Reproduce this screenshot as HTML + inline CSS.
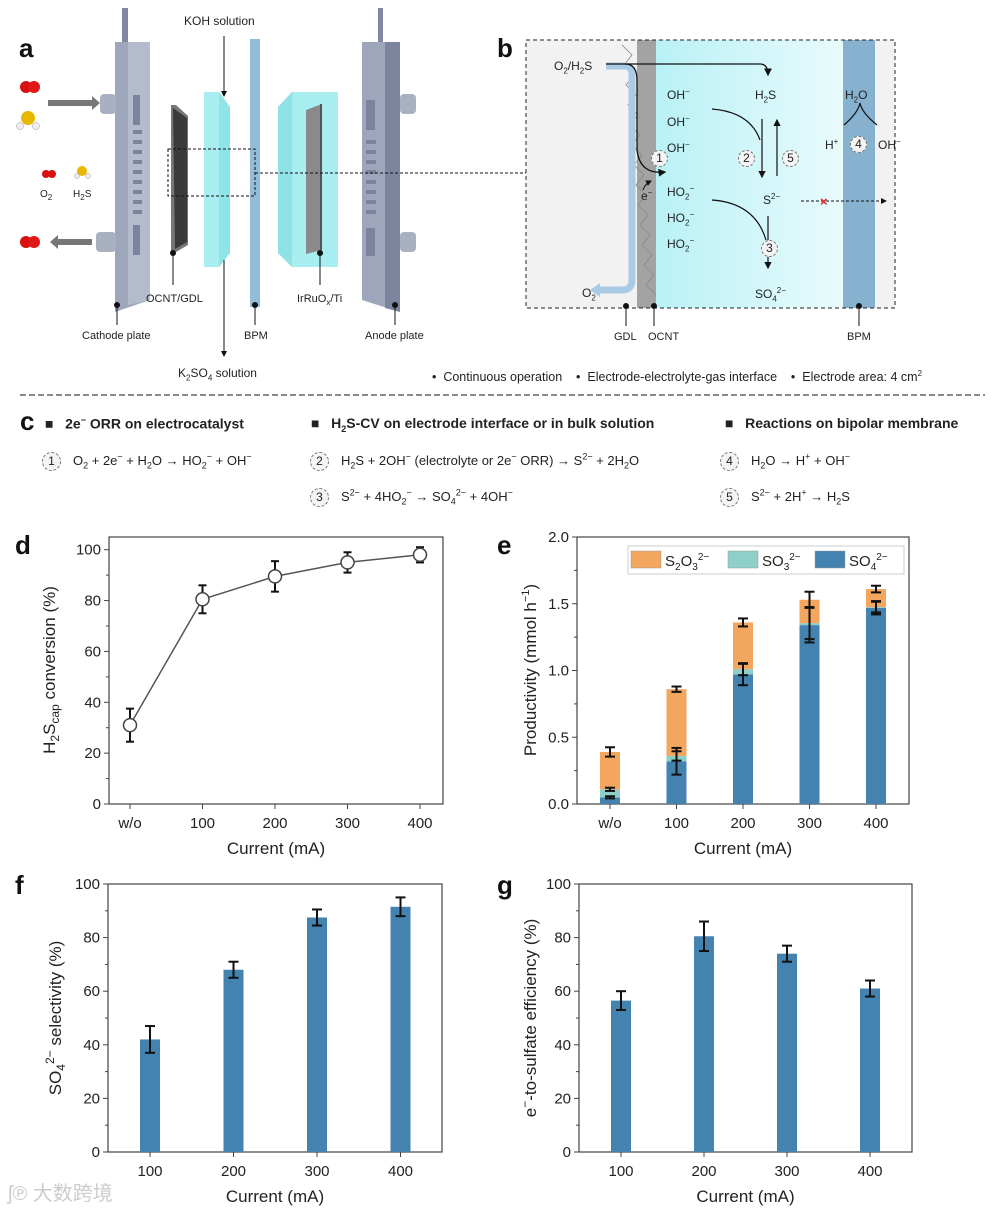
<!DOCTYPE html>
<html><head><meta charset="utf-8">
<style>
body{margin:0;background:#fff;}
#root{position:relative;width:993px;height:1215px;overflow:hidden;font-family:"Liberation Sans","Noto Sans CJK SC",sans-serif;color:#222;}
.t{position:absolute;white-space:nowrap;font-size:12px;line-height:1;}
.t sub,.t sup{font-size:8px;line-height:0;}
.lbl{position:absolute;font-weight:bold;font-size:26px;line-height:1;color:#111;}
.h{position:absolute;font-weight:bold;font-size:14px;white-space:nowrap;line-height:1;}
.eq{position:absolute;font-size:13px;white-space:nowrap;line-height:1;}
.eq sub,.eq sup,.h sub{font-size:9px;line-height:0;}
.circ{display:inline-block;width:17px;height:17px;border:1px dashed #777;border-radius:50%;text-align:center;line-height:17px;font-size:12px;margin-right:12px;vertical-align:middle;background:#f4f4f4;}
svg text{font-family:"Liberation Sans",sans-serif;}
</style></head><body>
<div id="root">
<svg width="993" height="1215" style="position:absolute;left:0;top:0">
<defs>
<linearGradient id="cy" x1="0" x2="1"><stop offset="0" stop-color="#b9f1f6"/><stop offset="1" stop-color="#e9fbfc"/></linearGradient>
<marker id="ah" markerWidth="6" markerHeight="6" refX="5" refY="3" orient="auto"><path d="M0,0 L6,3 L0,6z" fill="#111"/></marker>
</defs>
<!-- panel a -->
<g>
<polygon points="122,8 128,8 128,42 122,42" fill="#8089a0"/>
<polygon points="115,42 150,42 150,300 115,312" fill="#9ea6bb"/>
<polygon points="128,42 150,42 150,300 128,305" fill="#b4bbcc"/>
<rect x="133" y="95" width="7" height="30" fill="#7a849c"/>
<g fill="#7a849c"><rect x="133" y="130" width="9" height="4"/><rect x="133" y="140" width="9" height="4"/><rect x="133" y="150" width="9" height="4"/><rect x="133" y="160" width="9" height="4"/><rect x="133" y="170" width="9" height="4"/><rect x="133" y="180" width="9" height="4"/><rect x="133" y="190" width="9" height="4"/><rect x="133" y="200" width="9" height="4"/><rect x="133" y="210" width="9" height="4"/></g>
<rect x="133" y="225" width="7" height="30" fill="#7a849c"/>
<rect x="100" y="94" width="16" height="20" rx="4" fill="#a9b0c2"/>
<rect x="96" y="232" width="20" height="20" rx="4" fill="#a9b0c2"/>
<polygon points="48,100 92,100 92,96 100,103 92,110 92,106 48,106" fill="#777"/>
<polygon points="92,239 58,239 58,235 50,242 58,249 58,245 92,245" fill="#777"/>
<circle cx="26" cy="87" r="6" fill="#d81010"/><circle cx="34" cy="87" r="6" fill="#e01818"/>
<circle cx="28" cy="118" r="7" fill="#e8b800"/><circle cx="20" cy="126" r="3.5" fill="#eee" stroke="#999" stroke-width=".5"/><circle cx="36" cy="126" r="3.5" fill="#eee" stroke="#999" stroke-width=".5"/>
<circle cx="46" cy="174" r="4" fill="#d81010"/><circle cx="52" cy="174" r="4" fill="#d81010"/>
<circle cx="82" cy="171" r="5" fill="#e8b800"/><circle cx="77" cy="176" r="2.5" fill="#eee" stroke="#999" stroke-width=".5"/><circle cx="88" cy="176" r="2.5" fill="#eee" stroke="#999" stroke-width=".5"/>
<circle cx="26" cy="242" r="6" fill="#d81010"/><circle cx="34" cy="242" r="6" fill="#e01818"/>
<polygon points="171,105 176,105 188,116 188,245 176,252 171,252" fill="#777"/>
<polygon points="173,108 187,118 187,242 175,249" fill="#3c3a38"/>
<polygon points="204,92 219,92 230,107 230,253 219,267 204,267" fill="#a8eef1"/>
<polygon points="219,92 230,107 230,253 219,267" fill="#8fe4e8"/>
<rect x="250" y="39" width="10" height="268" fill="#93bcd8"/>
<polygon points="278,107 292,92 338,92 338,267 292,267 278,253" fill="#a8eef1"/>
<polygon points="278,107 292,92 292,267 278,253" fill="#8ee2e6"/>
<polygon points="306,110 322,104 322,250 306,254" fill="#8a8a8a"/>
<polygon points="320,104 322,104 322,250 320,250" fill="#555"/>
<polygon points="378,8 383,8 383,42 378,42" fill="#8089a0"/>
<polygon points="362,42 400,42 400,312 362,300" fill="#9ea6bb"/>
<polygon points="385,42 400,42 400,312 385,308" fill="#7c859d"/>
<g fill="#7a849c"><rect x="366" y="100" width="9" height="30"/><rect x="366" y="140" width="10" height="4"/><rect x="366" y="150" width="10" height="4"/><rect x="366" y="160" width="10" height="4"/><rect x="366" y="170" width="10" height="4"/><rect x="366" y="180" width="10" height="4"/><rect x="366" y="190" width="10" height="4"/><rect x="366" y="200" width="10" height="4"/><rect x="366" y="210" width="10" height="4"/><rect x="366" y="228" width="9" height="28"/></g>
<rect x="400" y="94" width="16" height="20" rx="4" fill="#a9b0c2"/>
<rect x="400" y="232" width="16" height="20" rx="4" fill="#a9b0c2"/>
<rect x="168" y="149" width="87" height="47" fill="none" stroke="#111" stroke-dasharray="3,2"/>
<line x1="255" y1="173" x2="526" y2="173" stroke="#111" stroke-dasharray="3,2"/>
<line x1="224" y1="36" x2="224" y2="96" stroke="#111" marker-end="url(#ah)"/>
<line x1="224" y1="260" x2="224" y2="356" stroke="#111" marker-end="url(#ah)"/>
<g stroke="#111"><line x1="173" y1="253" x2="173" y2="285"/><line x1="117" y1="305" x2="117" y2="325"/><line x1="255" y1="305" x2="255" y2="325"/><line x1="320" y1="253" x2="320" y2="285"/><line x1="395" y1="305" x2="395" y2="325"/></g>
<g fill="#111"><circle cx="173" cy="253" r="3"/><circle cx="117" cy="305" r="3"/><circle cx="255" cy="305" r="3"/><circle cx="320" cy="253" r="3"/><circle cx="395" cy="305" r="3"/></g>
</g>
<!-- panel b -->
<g>
<rect x="526" y="40" width="369" height="268" fill="#f2f2f2"/>
<rect x="656" y="40" width="187" height="268" fill="url(#cy)"/>
<rect x="637" y="40" width="19" height="268" fill="#a3a3a3"/>
<path d="M622,45 l10,10 l-8,10 l10,10 l-8,10 l10,10 l-8,10 l10,10 l-8,10 l10,10 l-8,10 l10,10 l-8,10 l10,10 l-8,10 l10,10 l-8,10 l10,10 l-8,10 l10,10 l-8,10 l10,10 l-8,10 l10,10 l-8,10 l10,10" fill="none" stroke="#888" stroke-width=".8"/>
<rect x="843" y="40" width="32" height="268" fill="#87b2cf"/>
<rect x="526" y="40" width="369" height="268" fill="none" stroke="#222" stroke-dasharray="4,3"/>
<path d="M606,66 L625,66 Q632,66 632,75 L632,280 Q632,290 622,290 L598,290" fill="none" stroke="#a9cbe6" stroke-width="7"/>
<polygon points="590,290 600,283 600,297" fill="#a9cbe6"/>
<path d="M606,64 L625,64 Q637,64 637,80 L637,150 Q640,175 665,172" fill="none" stroke="#111" stroke-width="1.3" marker-end="url(#ah)"/>
<path d="M625,64 L760,64 Q768,64 768,75" fill="none" stroke="#111" stroke-width="1.3" marker-end="url(#ah)"/>
<path d="M712,109 Q750,112 760,140" fill="none" stroke="#111" stroke-width="1.2"/>
<line x1="762" y1="119" x2="762" y2="177" stroke="#111" stroke-width="1.2" marker-end="url(#ah)"/>
<line x1="777" y1="176" x2="777" y2="120" stroke="#111" stroke-width="1.2" marker-end="url(#ah)"/>
<path d="M712,200 Q755,203 766,240" fill="none" stroke="#111" stroke-width="1.2"/>
<line x1="768" y1="216" x2="768" y2="268" stroke="#111" stroke-width="1.2" marker-end="url(#ah)"/>
<path d="M643,190 Q645,184 651,181" fill="none" stroke="#111" marker-end="url(#ah)"/>
<path d="M844,125 Q858,113 860,103 Q862,113 877,125" fill="none" stroke="#111" stroke-width="1.2"/>
<line x1="801" y1="201" x2="886" y2="201" stroke="#111" stroke-dasharray="3,2" marker-end="url(#ah)"/>
<text x="820" y="206" fill="#e02020" font-size="13" font-weight="bold">×</text>
<g stroke="#111"><line x1="626" y1="306" x2="626" y2="326"/><line x1="654" y1="306" x2="654" y2="326"/><line x1="859" y1="306" x2="859" y2="326"/></g>
<g fill="#111"><circle cx="626" cy="306" r="3"/><circle cx="654" cy="306" r="3"/><circle cx="859" cy="306" r="3"/></g>
</g>
<line x1="20" y1="395" x2="985" y2="395" stroke="#888" stroke-width="2" stroke-dasharray="6,3"/>
<g id="charts"></g>
</svg>

<div class="lbl" style="left:19px;top:35px">a</div>
<div class="lbl" style="left:497px;top:35px">b</div>
<div class="lbl" style="left:20px;top:408px">c</div>
<div class="lbl" style="left:15px;top:532px">d</div>
<div class="lbl" style="left:497px;top:532px">e</div>
<div class="lbl" style="left:15px;top:872px">f</div>
<div class="lbl" style="left:497px;top:872px">g</div>

<div class="t" style="left:184px;top:15px">KOH solution</div>
<div class="t" style="left:178px;top:367px">K<sub>2</sub>SO<sub>4</sub> solution</div>
<div class="t" style="left:40px;top:190px;font-size:10px">O<sub>2</sub></div>
<div class="t" style="left:73px;top:190px;font-size:10px">H<sub>2</sub>S</div>
<div class="t" style="left:146px;top:294px;font-size:11px">OCNT/GDL</div>
<div class="t" style="left:297px;top:294px;font-size:11px">IrRuO<sub>x</sub>/Ti</div>
<div class="t" style="left:82px;top:331px;font-size:11px">Cathode plate</div>
<div class="t" style="left:244px;top:331px;font-size:11px">BPM</div>
<div class="t" style="left:365px;top:331px;font-size:11px">Anode plate</div>

<div class="t" style="left:554px;top:60px">O<sub>2</sub>/H<sub>2</sub>S</div>
<div class="t" style="left:667px;top:89px">OH<sup>−</sup></div>
<div class="t" style="left:667px;top:116px">OH<sup>−</sup></div>
<div class="t" style="left:667px;top:142px">OH<sup>−</sup></div>
<div class="t" style="left:755px;top:89px">H<sub>2</sub>S</div>
<div class="t" style="left:845px;top:89px">H<sub>2</sub>O</div>
<div class="t" style="left:825px;top:139px">H<sup>+</sup></div>
<div class="t" style="left:878px;top:139px">OH<sup>−</sup></div>
<div class="t" style="left:667px;top:186px">HO<sub>2</sub><sup>−</sup></div>
<div class="t" style="left:667px;top:212px">HO<sub>2</sub><sup>−</sup></div>
<div class="t" style="left:667px;top:238px">HO<sub>2</sub><sup>−</sup></div>
<div class="t" style="left:763px;top:194px">S<sup>2−</sup></div>
<div class="t" style="left:755px;top:288px">SO<sub>4</sub><sup>2−</sup></div>
<div class="t" style="left:641px;top:190px">e<sup>−</sup></div>
<div class="t" style="left:582px;top:287px">O<sub>2</sub></div>
<div class="t" style="left:651px;top:150px"><span class="circ" style="width:15px;height:15px;line-height:15px">1</span></div>
<div class="t" style="left:738px;top:150px"><span class="circ" style="width:15px;height:15px;line-height:15px">2</span></div>
<div class="t" style="left:782px;top:150px"><span class="circ" style="width:15px;height:15px;line-height:15px">5</span></div>
<div class="t" style="left:761px;top:240px"><span class="circ" style="width:15px;height:15px;line-height:15px">3</span></div>
<div class="t" style="left:850px;top:136px"><span class="circ" style="width:15px;height:15px;line-height:15px">4</span></div>
<div class="t" style="left:614px;top:332px;font-size:11px">GDL</div>
<div class="t" style="left:648px;top:332px;font-size:11px">OCNT</div>
<div class="t" style="left:847px;top:332px;font-size:11px">BPM</div>
<div class="t" style="left:432px;top:371px;font-size:12.5px">•&nbsp;&nbsp;Continuous operation&nbsp;&nbsp;&nbsp;&nbsp;•&nbsp;&nbsp;Electrode-electrolyte-gas interface&nbsp;&nbsp;&nbsp;&nbsp;•&nbsp;&nbsp;Electrode area: 4 cm<sup>2</sup></div>

<div class="h" style="left:45px;top:416px">■&nbsp;&nbsp;&nbsp;2e<sup style="font-size:9px">−</sup> ORR on electrocatalyst</div>
<div class="h" style="left:311px;top:416px">■&nbsp;&nbsp;&nbsp;H<sub>2</sub>S-CV on electrode interface or in bulk solution</div>
<div class="h" style="left:725px;top:416px">■&nbsp;&nbsp;&nbsp;Reactions on bipolar membrane</div>
<div class="eq" style="left:42px;top:452px"><span class="circ">1</span>O<sub>2</sub> + 2e<sup>−</sup> + H<sub>2</sub>O → HO<sub>2</sub><sup>−</sup> + OH<sup>−</sup></div>
<div class="eq" style="left:310px;top:452px"><span class="circ">2</span>H<sub>2</sub>S + 2OH<sup>−</sup> (electrolyte or 2e<sup>−</sup> ORR) → S<sup>2−</sup> + 2H<sub>2</sub>O</div>
<div class="eq" style="left:310px;top:488px"><span class="circ">3</span>S<sup>2−</sup> + 4HO<sub>2</sub><sup>−</sup> → SO<sub>4</sub><sup>2−</sup> + 4OH<sup>−</sup></div>
<div class="eq" style="left:720px;top:452px"><span class="circ">4</span>H<sub>2</sub>O → H<sup>+</sup> + OH<sup>−</sup></div>
<div class="eq" style="left:720px;top:488px"><span class="circ">5</span>S<sup>2−</sup> + 2H<sup>+</sup> → H<sub>2</sub>S</div>
<div class="t" style="left:8px;top:1184px;font-size:20px;color:#ccc">ʃ℗ 大数跨境</div>
</div>

<script>
// panel d data
const dCats = ["w/o","100","200","300","400"];
const dVals = [31, 80.5, 89.5, 95, 98];
const dErr = [6.5, 5.5, 6, 4, 3];
const dTicks = [0,20,40,60,80,100];
// panel e data
const eCats = ["w/o","100","200","300","400"];
const eSO4 = [0.05, 0.32, 0.97, 1.34, 1.47];
const eSO3 = [0.06, 0.04, 0.04, 0.015, 0.005];
const eS2O3 = [0.28, 0.50, 0.35, 0.175, 0.135];
const eTopErr = [0.035, 0.02, 0.03, 0.06, 0.025];
const eMidErr = [0.012, 0.035, 0.045, 0.12, 0.04];
const eLowErr = [0.008, 0.1, 0.08, 0.13, 0.05];
const eTicks = [0, 0.5, 1.0, 1.5, 2.0];
// panel f data
const fCats = ["100","200","300","400"];
const fVals = [42, 68, 87.5, 91.5];
const fErr = [5, 3, 3, 3.5];
// panel g data
const gCats = ["100","200","300","400"];
const gVals = [56.5, 80.5, 74, 61];
const gErr = [3.5, 5.5, 3, 3];
const pTicks = [0,20,40,60,80,100];

const NS="http://www.w3.org/2000/svg";
const root=document.getElementById('charts');
function mk(tag,attrs,parent){const e=document.createElementNS(NS,tag);for(const k in attrs)e.setAttribute(k,attrs[k]);(parent||root).appendChild(e);return e;}

function axes(g,L,R,T,B,ymin,ymax,ticks,fmt,cats,xs,xtitle,ytitleFn){
  const sy=v=>B-(v-ymin)/(ymax-ymin)*(B-T);
  mk('rect',{x:L,y:T,width:R-L,height:B-T,fill:'none',stroke:'#444','stroke-width':1.2},g);
  ticks.forEach((t,i)=>{
    const y=sy(t);
    const tk=mk('line',{x1:L-5,x2:L,y1:y,y2:y,stroke:'#444'},g);
    
    
    const tx=mk('text',{x:L-8,y:y+5,'text-anchor':'end','font-size':15,fill:'#222'},g);
    tx.textContent=fmt(t);
    
    
    if(i<ticks.length-1){const ym=sy((t+ticks[i+1])/2);mk('line',{x1:L-3,x2:L,y1:ym,y2:ym,stroke:'#444'},g);}
  });
  cats.forEach((c,i)=>{
    const x=xs(i);
    mk('line',{x1:x,x2:x,y1:B,y2:B+5,stroke:'#444'},g);
    const tx=mk('text',{x:x,y:B+24,'text-anchor':'middle','font-size':15,fill:'#222'},g);
    tx.textContent=c;
    
    
  });
  const xt=mk('text',{x:(L+R)/2,y:B+50,'text-anchor':'middle','font-size':17,fill:'#222'},g);
  xt.textContent=xtitle;
  
  
  ytitleFn(g);
  return sy;
}
function errbar(g,x,y1,y2,w){
  mk('line',{x1:x,x2:x,y1:y1,y2:y2,stroke:'#111','stroke-width':2},g);
  mk('line',{x1:x-w,x2:x+w,y1:y1,y2:y1,stroke:'#111','stroke-width':2},g);
  mk('line',{x1:x-w,x2:x+w,y1:y2,y2:y2,stroke:'#111','stroke-width':2},g);
}
function ytitle(g,cx,cy,html){
  const t=mk('text',{transform:`translate(${cx},${cy}) rotate(-90)`,'text-anchor':'middle','font-size':17,fill:'#222'},g);
  t.innerHTML=html;
  
  
}

// Panel d
(function(){
  const g=mk('g',{});
  
  
  const L=109,R=443,T=537,B=804;
  const xs=i=>130+i*72.5;
  const sy=axes(g,L,R,T,B,0,105,dTicks,t=>t,dCats,xs,'Current (mA)',g=>ytitle(g,55,670,'H<tspan font-size="12" dy="4">2</tspan><tspan dy="-4">S</tspan><tspan font-size="12" dy="4">cap</tspan><tspan dy="-4"> conversion (%)</tspan>'));
  const pts=dVals.map((v,i)=>xs(i)+','+sy(v)).join(' ');
  const ln=mk('polyline',{points:pts,fill:'none',stroke:'#555','stroke-width':1.5},g);
  
  
  dVals.forEach((v,i)=>{
    errbar(g,xs(i),sy(v+dErr[i]),sy(v-dErr[i]),4);
    const c=mk('circle',{cx:xs(i),cy:sy(v),r:6.5,fill:'#fff',stroke:'#444','stroke-width':1.5},g);
    
    
  });
})();

// Panel e
(function(){
  const g=mk('g',{});
  
  
  const L=577,R=909,T=537,B=804;
  const xs=i=>610+i*66.5;
  const sy=axes(g,L,R,T,B,0,2.0,eTicks,t=>t.toFixed(1),eCats,xs,'Current (mA)',g=>ytitle(g,536,670,'Productivity (mmol h<tspan font-size="11" dy="-7">−1</tspan><tspan dy="7">)</tspan>'));
  const bw=20;
  eCats.forEach((c,i)=>{
    const a=eSO4[i],b=a+eSO3[i],t=b+eS2O3[i],x=xs(i);
    const r1=mk('rect',{x:x-bw/2,y:sy(a),width:bw,height:sy(0)-sy(a),fill:'#4482b0'},g);
    
    
    const r2=mk('rect',{x:x-bw/2,y:sy(b),width:bw,height:sy(a)-sy(b),fill:'#8ecfc7'},g);
    
    
    const r3=mk('rect',{x:x-bw/2,y:sy(t),width:bw,height:sy(b)-sy(t),fill:'#f2a65e'},g);
    
    
    errbar(g,x,sy(t+eTopErr[i]),sy(t-eTopErr[i]),5);
    errbar(g,x,sy(b+eMidErr[i]),sy(b-eMidErr[i]),5);
    errbar(g,x,sy(a+eLowErr[i]),sy(a-eLowErr[i]),5);
  });
  const lg=mk('g',{},g);
  
  
  mk('rect',{x:628,y:546,width:276,height:28,fill:'#fff',stroke:'#ccc'},lg);
  [['#f2a65e','S<tspan font-size="10" dy="4">2</tspan><tspan dy="-4">O</tspan><tspan font-size="10" dy="4">3</tspan><tspan font-size="10" dy="-10">2−</tspan>',631],
   ['#8ecfc7','SO<tspan font-size="10" dy="4">3</tspan><tspan font-size="10" dy="-10">2−</tspan>',728],
   ['#4482b0','SO<tspan font-size="10" dy="4">4</tspan><tspan font-size="10" dy="-10">2−</tspan>',815]].forEach(([col,lab,x])=>{
    const e=mk('g',{},lg);
    
    
    mk('rect',{x:x,y:551,width:30,height:17,fill:col,stroke:'#999','stroke-width':.5},e);
    const t=mk('text',{x:x+34,y:566,'font-size':15,fill:'#222'},e);
    t.innerHTML=lab;
  });
})();

function simpleBar(name,L,R,cats,vals,errs,x0,dx,ytitleHtml,ycx){
  const g=mk('g',{});
  
  
  const T=884,B=1152;
  const xs=i=>x0+i*dx;
  const sy=axes(g,L,R,T,B,0,100,pTicks,t=>t,cats,xs,'Current (mA)',g=>ytitle(g,ycx,1018,ytitleHtml));
  vals.forEach((v,i)=>{
    const r=mk('rect',{x:xs(i)-10,y:sy(v),width:20,height:sy(0)-sy(v),fill:'#4482b0'},g);
    
    
    errbar(g,xs(i),sy(v+errs[i]),sy(v-errs[i]),5);
  });
}
simpleBar('chart-f-selectivity',108,442,fCats,fVals,fErr,150,83.5,'SO<tspan font-size="12" dy="4">4</tspan><tspan font-size="12" dy="-11">2−</tspan><tspan dy="7"> selectivity (%)</tspan>',61);
simpleBar('chart-g-efficiency',579,912,gCats,gVals,gErr,621,83,'e<tspan font-size="12" dy="-7">−</tspan><tspan dy="7">-to-sulfate efficiency (%)</tspan>',536);
</script>
</body></html>
